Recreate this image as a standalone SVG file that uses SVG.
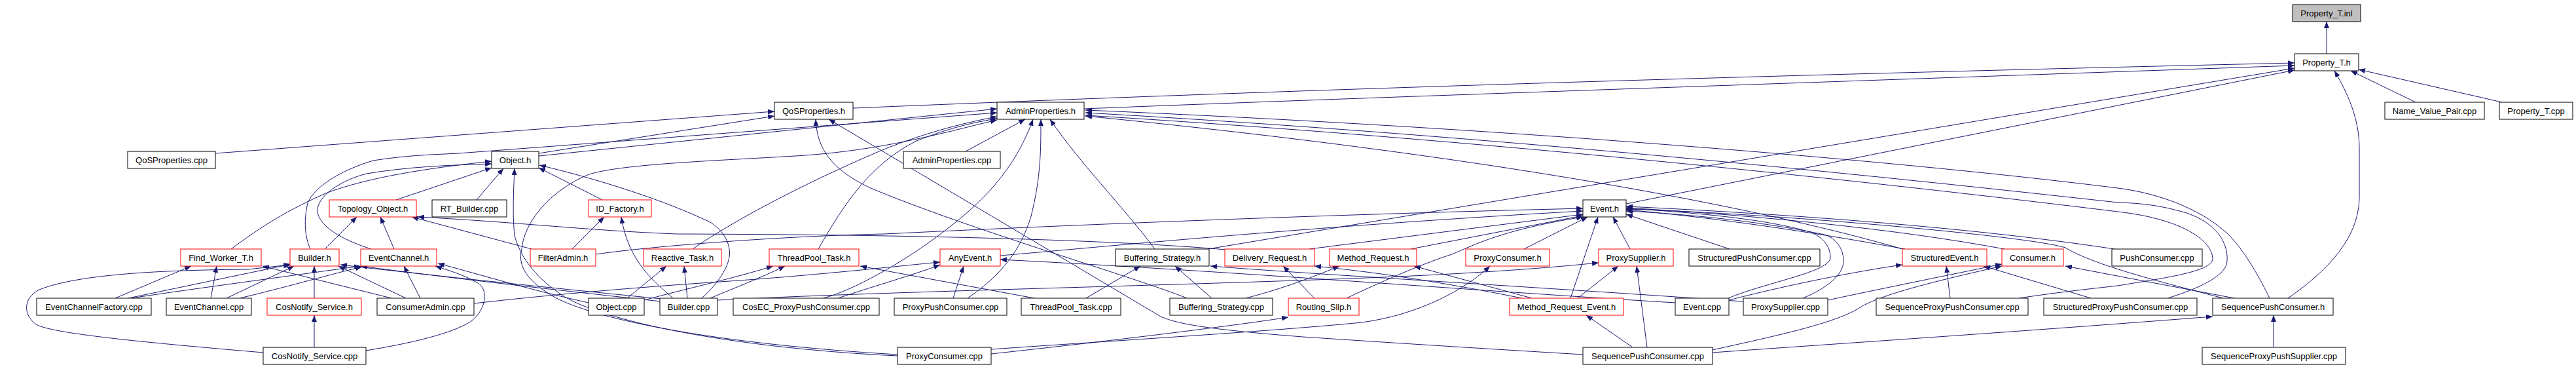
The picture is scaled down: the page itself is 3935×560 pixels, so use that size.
<svg xmlns="http://www.w3.org/2000/svg" width="3935" height="560" viewBox="0 0 3935 560">
<defs>
<marker id="ah" viewBox="0 0 10 8" refX="10" refY="4" markerWidth="10" markerHeight="8" markerUnits="userSpaceOnUse" orient="auto"><path d="M0,0 L10,4 L0,8 z" fill="#191970"/></marker>
<style>
.e path{fill:none;stroke:#191970;stroke-width:1;marker-end:url(#ah)}
.n rect{fill:#fff;stroke:#000;stroke-width:1}
.n.r rect{stroke:#ff0000}
.n.g rect{fill:#bfbfbf}
.n text{font-family:"Liberation Sans",Arial,sans-serif;font-size:13px;text-anchor:middle;fill:#000}
</style>
</defs>
<rect width="3935" height="560" fill="#fff"/>
<g id="connectors" class="e">
<path d="M3554,82 L3554,33"/>
<path d="M3690,156 L3591,108"/>
<path d="M3822,156 L3603,106"/>
<path d="M3495,455 C3560,410 3604,360 3604,300 L3604,226 C3604,180 3585,140 3566,108"/>
<path d="M1303,165 C2000,136 2650,116 3505,96"/>
<path d="M1656,166 C2000,152 2650,130 3505,100"/>
<path d="M1845,380 L3505,104"/>
<path d="M2484,311 L3505,107"/>
<path d="M329,234 L1183,170"/>
<path d="M823,234 L1183,177"/>
<path d="M1813,455 C1740,425 1480,350 1330,287 C1268,258 1248,225 1246,182"/>
<path d="M2418,541 C2200,528 2050,518 1990,514 C1850,503 1800,495 1773,483 L1266,182"/>
<path d="M1475,231 L1566,182"/>
<path d="M1764,380 C1720,320 1650,250 1604,182"/>
<path d="M1478,455 C1530,420 1560,380 1575,330 C1590,270 1590,230 1590,182"/>
<path d="M1257,455 C1300,445 1380,400 1434,359 C1500,310 1550,260 1578,182"/>
<path d="M1250,380 C1290,310 1330,250 1400,215 C1450,195 1490,186 1523,181"/>
<path d="M1058,380 C1130,330 1250,270 1350,228 C1420,200 1480,186 1523,178"/>
<path d="M1371,541 C1100,525 920,490 850,455 C805,430 790,405 797,380 C800,340 840,290 900,266 C950,250 1100,245 1215,238 C1350,230 1450,200 1523,183"/>
<path d="M823,238 L1523,166"/>
<path d="M474,380 C465,360 464,335 470,310 C480,285 520,260 570,245 C620,237 660,236 700,234 L1523,172"/>
<path d="M3467,455 C3445,410 3420,370 3395,350 C3360,320 3300,295 3235,287 C2900,245 2300,195 1658,168"/>
<path d="M3311,455 C3360,440 3402,420 3402,398 C3404,370 3385,340 3340,325 C3300,313 3270,310 3235,309 C2900,272 2300,208 1658,172"/>
<path d="M3084,455 C3150,445 3200,440 3235,436 C3300,425 3380,415 3380,395 C3380,370 3340,335 3235,323 C2900,282 2300,215 1658,176"/>
<path d="M2906,380 C2700,320 2300,240 1658,177"/>
<path d="M353,380 C400,345 440,320 500,294 C560,272 640,258 751,246"/>
<path d="M567,380 C520,365 488,345 485,323 C483,300 520,275 560,265 C620,255 680,252 751,250"/>
<path d="M605,305 L751,256"/>
<path d="M728,305 L769,257"/>
<path d="M920,305 L823,256"/>
<path d="M1072,455 C1100,430 1118,400 1114,380 C1110,355 1090,340 1074,334 C1000,300 900,270 824,252"/>
<path d="M1371,543 C1100,530 900,485 851,445 C815,420 793,388 786,359 C783,330 784,300 786,257"/>
<path d="M496,380 L545,331"/>
<path d="M602,380 L581,331"/>
<path d="M812,380 L629,331"/>
<path d="M1873,381 C1700,366 1400,358 1034,357 C900,352 780,338 638,331"/>
<path d="M874,380 L923,331"/>
<path d="M1028,455 C1000,430 960,400 949,331"/>
<path d="M910,388 C1000,375 1200,360 1350,357 C1600,345 2000,328 2418,318"/>
<path d="M1528,390 C1650,380 2000,345 2418,322"/>
<path d="M2000,380 L2418,327"/>
<path d="M2155,380 L2418,329"/>
<path d="M2057,455 C2120,425 2180,400 2218,388 C2260,370 2300,350 2418,331"/>
<path d="M2328,380 L2425,331"/>
<path d="M2399,455 L2441,331"/>
<path d="M2490,380 L2464,331"/>
<path d="M2642,380 L2484,327"/>
<path d="M2640,455 C2700,430 2796,415 2796,393 C2796,372 2780,360 2765,354 C2700,335 2600,325 2484,318"/>
<path d="M2754,455 C2790,440 2816,420 2816,398 C2816,375 2800,362 2787,358 C2700,340 2600,328 2484,322"/>
<path d="M2910,380 C2800,360 2650,335 2484,320"/>
<path d="M3062,380 C2900,350 2700,330 2484,317"/>
<path d="M3230,380 C3000,345 2700,325 2484,315"/>
<path d="M3396,455 C3300,430 3200,405 3155,378 C3100,360 2700,325 2484,319"/>
<path d="M3413,455 L3155,406"/>
<path d="M2979,455 L2973,406"/>
<path d="M3194,455 L3030,406"/>
<path d="M2641,458 C2750,430 2850,412 2906,404"/>
<path d="M2792,458 C2900,435 3000,415 3058,403"/>
<path d="M2616,534 C2700,515 2800,495 2840,470 C2870,450 2960,428 3058,406"/>
<path d="M2340,455 L2160,406"/>
<path d="M2325,455 C2200,430 2100,415 2008,406"/>
<path d="M2410,455 L2472,406"/>
<path d="M2494,530 L2423,481"/>
<path d="M2516,530 L2500,406"/>
<path d="M2616,538 C2800,525 3100,505 3380,483"/>
<path d="M3473,530 L3473,481"/>
<path d="M1514,533 C1700,520 1950,505 2080,492 C2170,480 2240,440 2276,406"/>
<path d="M1514,540 C1700,520 1900,495 1968,484"/>
<path d="M1903,455 C1960,440 2000,425 2046,406"/>
<path d="M2008,455 L1960,406"/>
<path d="M2559,462 C2200,440 1900,415 1528,396"/>
<path d="M2663,460 C2300,435 2000,418 1849,406"/>
<path d="M984,458 C1050,440 1120,425 1181,406"/>
<path d="M1085,455 C1120,440 1160,425 1199,406"/>
<path d="M1580,455 L1314,406"/>
<path d="M958,455 L1018,406"/>
<path d="M1050,455 L1045,406"/>
<path d="M1456,455 L1472,406"/>
<path d="M1280,455 C1340,435 1400,418 1436,404"/>
<path d="M724,463 C820,452 950,440 1100,430 C1250,420 1380,405 1436,400"/>
<path d="M1096,458 C1400,442 2000,432 2250,416 C2350,410 2400,405 2442,401"/>
<path d="M1659,455 L1742,406"/>
<path d="M1851,455 L1795,406"/>
<path d="M1010,456 C900,445 700,425 520,404"/>
<path d="M1010,460 C900,448 700,426 551,406"/>
<path d="M899,462 C800,440 720,415 669,402"/>
<path d="M559,535 C620,525 690,510 720,490 C745,470 745,440 730,432 C710,420 690,414 665,406"/>
<path d="M200,455 C300,440 450,420 551,406"/>
<path d="M366,455 C430,440 500,420 553,407"/>
<path d="M642,455 L617,406"/>
<path d="M176,455 L292,406"/>
<path d="M322,455 L331,406"/>
<path d="M598,455 L401,406"/>
<path d="M402,538 C250,525 80,510 55,495 C35,480 35,455 60,442 C120,418 250,412 379,411 L443,404"/>
<path d="M346,455 L449,406"/>
<path d="M480,455 L480,406"/>
<path d="M620,455 L517,406"/>
<path d="M196,455 L445,403"/>
<path d="M480,530 L480,481"/>
</g>
<g id="n_inl" class="n g"><rect x="3502" y="7" width="104" height="26"/><text x="3554" y="25">Property_T.inl</text></g>
<g id="n_pth" class="n"><rect x="3505" y="82" width="98" height="26"/><text x="3554" y="100">Property_T.h</text></g>
<g id="n_qosh" class="n"><rect x="1183" y="156" width="120" height="26"/><text x="1243" y="174">QoSProperties.h</text></g>
<g id="n_admh" class="n"><rect x="1523" y="156" width="133" height="26"/><text x="1589.5" y="174">AdminProperties.h</text></g>
<g id="n_nvp" class="n"><rect x="3643" y="156" width="152" height="26"/><text x="3719" y="174">Name_Value_Pair.cpp</text></g>
<g id="n_ptcpp" class="n"><rect x="3818" y="156" width="112" height="26"/><text x="3874" y="174">Property_T.cpp</text></g>
<g id="n_qoscpp" class="n"><rect x="195" y="231" width="134" height="26"/><text x="262" y="249">QoSProperties.cpp</text></g>
<g id="n_objh" class="n"><rect x="751" y="231" width="72" height="26"/><text x="787" y="249">Object.h</text></g>
<g id="n_admcpp" class="n"><rect x="1380" y="231" width="148" height="26"/><text x="1454" y="249">AdminProperties.cpp</text></g>
<g id="n_topo" class="n r"><rect x="503" y="305" width="133" height="26"/><text x="569.5" y="323">Topology_Object.h</text></g>
<g id="n_rtb" class="n"><rect x="660" y="305" width="114" height="26"/><text x="717" y="323">RT_Builder.cpp</text></g>
<g id="n_idf" class="n r"><rect x="899" y="305" width="96" height="26"/><text x="947" y="323">ID_Factory.h</text></g>
<g id="n_evh" class="n"><rect x="2418" y="305" width="66" height="26"/><text x="2451" y="323">Event.h</text></g>
<g id="n_fw" class="n r"><rect x="276" y="380" width="123" height="26"/><text x="337.5" y="398">Find_Worker_T.h</text></g>
<g id="n_bh" class="n r"><rect x="443" y="380" width="75" height="26"/><text x="480.5" y="398">Builder.h</text></g>
<g id="n_ech" class="n r"><rect x="551" y="380" width="116" height="26"/><text x="609" y="398">EventChannel.h</text></g>
<g id="n_fa" class="n r"><rect x="810" y="380" width="100" height="26"/><text x="860" y="398">FilterAdmin.h</text></g>
<g id="n_rt" class="n r"><rect x="983" y="380" width="119" height="26"/><text x="1042.5" y="398">Reactive_Task.h</text></g>
<g id="n_tpt" class="n r"><rect x="1175" y="380" width="137" height="26"/><text x="1243.5" y="398">ThreadPool_Task.h</text></g>
<g id="n_any" class="n r"><rect x="1436" y="380" width="92" height="26"/><text x="1482" y="398">AnyEvent.h</text></g>
<g id="n_bsh" class="n"><rect x="1704" y="380" width="143" height="26"/><text x="1775.5" y="398">Buffering_Strategy.h</text></g>
<g id="n_dr" class="n r"><rect x="1871" y="380" width="137" height="26"/><text x="1939.5" y="398">Delivery_Request.h</text></g>
<g id="n_mr" class="n r"><rect x="2031" y="380" width="133" height="26"/><text x="2097.5" y="398">Method_Request.h</text></g>
<g id="n_pch" class="n r"><rect x="2239" y="380" width="128" height="26"/><text x="2303" y="398">ProxyConsumer.h</text></g>
<g id="n_psh" class="n r"><rect x="2442" y="380" width="114" height="26"/><text x="2499" y="398">ProxySupplier.h</text></g>
<g id="n_spc" class="n"><rect x="2580" y="380" width="200" height="26"/><text x="2680" y="398">StructuredPushConsumer.cpp</text></g>
<g id="n_seh" class="n r"><rect x="2906" y="380" width="129" height="26"/><text x="2970.5" y="398">StructuredEvent.h</text></g>
<g id="n_conh" class="n r"><rect x="3058" y="380" width="94" height="26"/><text x="3105" y="398">Consumer.h</text></g>
<g id="n_pushc" class="n"><rect x="3226" y="380" width="138" height="26"/><text x="3295" y="398">PushConsumer.cpp</text></g>
<g id="n_ecf" class="n"><rect x="56" y="455" width="175" height="26"/><text x="143.5" y="473">EventChannelFactory.cpp</text></g>
<g id="n_eccpp" class="n"><rect x="254" y="455" width="130" height="26"/><text x="319" y="473">EventChannel.cpp</text></g>
<g id="n_cnsh" class="n r"><rect x="408" y="455" width="144" height="26"/><text x="480" y="473">CosNotify_Service.h</text></g>
<g id="n_cacpp" class="n"><rect x="576" y="455" width="148" height="26"/><text x="650" y="473">ConsumerAdmin.cpp</text></g>
<g id="n_objcpp" class="n"><rect x="899" y="455" width="85" height="26"/><text x="941.5" y="473">Object.cpp</text></g>
<g id="n_bcpp" class="n"><rect x="1008" y="455" width="88" height="26"/><text x="1052" y="473">Builder.cpp</text></g>
<g id="n_cosec" class="n"><rect x="1120" y="455" width="223" height="26"/><text x="1231.5" y="473">CosEC_ProxyPushConsumer.cpp</text></g>
<g id="n_ppc" class="n"><rect x="1366" y="455" width="172" height="26"/><text x="1452" y="473">ProxyPushConsumer.cpp</text></g>
<g id="n_tptcpp" class="n"><rect x="1560" y="455" width="152" height="26"/><text x="1636" y="473">ThreadPool_Task.cpp</text></g>
<g id="n_bscpp" class="n"><rect x="1787" y="455" width="157" height="26"/><text x="1865.5" y="473">Buffering_Strategy.cpp</text></g>
<g id="n_rs" class="n r"><rect x="1968" y="455" width="108" height="26"/><text x="2022" y="473">Routing_Slip.h</text></g>
<g id="n_mre" class="n r"><rect x="2306" y="455" width="174" height="26"/><text x="2393" y="473">Method_Request_Event.h</text></g>
<g id="n_evcpp" class="n"><rect x="2559" y="455" width="82" height="26"/><text x="2600" y="473">Event.cpp</text></g>
<g id="n_pscpp" class="n"><rect x="2663" y="455" width="129" height="26"/><text x="2727.5" y="473">ProxySupplier.cpp</text></g>
<g id="n_sppc" class="n"><rect x="2866" y="455" width="232" height="26"/><text x="2982" y="473">SequenceProxyPushConsumer.cpp</text></g>
<g id="n_stppc" class="n"><rect x="3122" y="455" width="234" height="26"/><text x="3239" y="473">StructuredProxyPushConsumer.cpp</text></g>
<g id="n_seqh" class="n"><rect x="3380" y="455" width="184" height="26"/><text x="3472" y="473">SequencePushConsumer.h</text></g>
<g id="n_cnscpp" class="n"><rect x="402" y="530" width="157" height="26"/><text x="480.5" y="548">CosNotify_Service.cpp</text></g>
<g id="n_pccpp" class="n"><rect x="1371" y="530" width="143" height="26"/><text x="1442.5" y="548">ProxyConsumer.cpp</text></g>
<g id="n_seqcpp" class="n"><rect x="2418" y="530" width="198" height="26"/><text x="2517" y="548">SequencePushConsumer.cpp</text></g>
<g id="n_sppscpp" class="n"><rect x="3364" y="530" width="219" height="26"/><text x="3473.5" y="548">SequenceProxyPushSupplier.cpp</text></g>
</svg>
